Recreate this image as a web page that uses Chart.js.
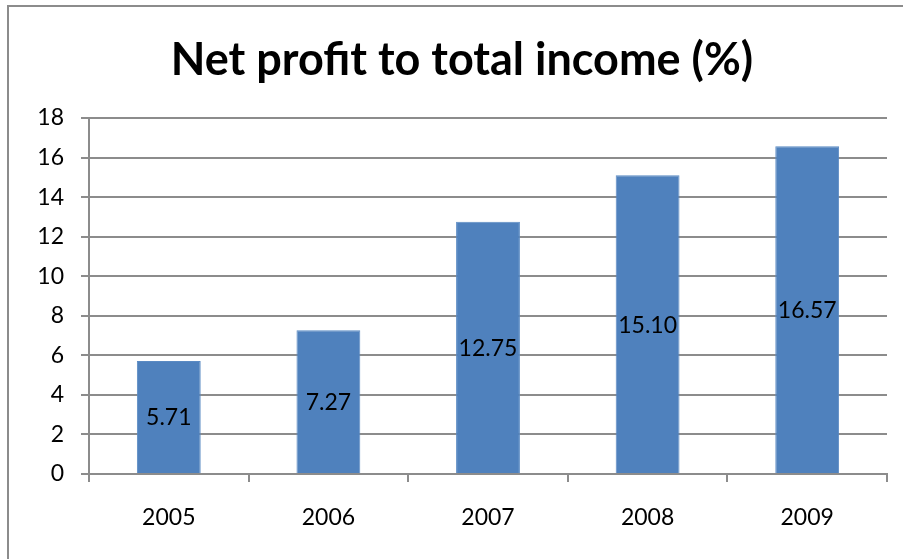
<!DOCTYPE html>
<html>
<head>
<meta charset="utf-8">
<script src="https://cdn.jsdelivr.net/npm/chart.js@4"></script>
<style>
  html, body { margin: 0; padding: 0; background: #fff; }
  #wrap { width: 903px; height: 559px; }
</style>
</head>
<body>
<div id="wrap"><canvas id="myChart"></canvas></div>
<script>
// data
const years = ['2005', '2006', '2007', '2008', '2009'];
const profitRatio = [5.71, 7.27, 12.75, 15.10, 16.57];
const yTicks = [0, 2, 4, 6, 8, 10, 12, 14, 16, 18];
const chartTitle = 'Net profit to total income (%)';

const FONT = 'Lato, "Liberation Sans", sans-serif';

// outer frame + title, like the spreadsheet chart
const frame = {
  id: 'frame',
  beforeDraw(chart) {
    const { ctx } = chart;
    ctx.save();
    ctx.fillStyle = '#fff';
    ctx.fillRect(0, 0, chart.width, chart.height);
    ctx.strokeStyle = '#8c8c8c';
    ctx.lineWidth = 2;
    ctx.beginPath();
    ctx.moveTo(8, chart.height + 2);
    ctx.lineTo(8, 6);
    ctx.lineTo(chart.width + 2, 6);
    ctx.stroke();

    ctx.font = 'bold 45px ' + FONT;
    ctx.fillStyle = '#000';
    ctx.textAlign = 'center';
    ctx.textBaseline = 'middle';
    ctx.fillText(chartTitle, 462, 60);
    ctx.restore();
  }
};

// value labels centred in each bar
const barLabels = {
  id: 'barLabels',
  afterDatasetsDraw(chart) {
    const { ctx } = chart;
    const meta = chart.getDatasetMeta(0);
    ctx.save();
    ctx.font = '23px ' + FONT;
    ctx.fillStyle = '#000';
    ctx.textAlign = 'center';
    ctx.textBaseline = 'middle';
    meta.data.forEach((bar, i) => {
      const y = (bar.y + bar.base) / 2 + 1;
      ctx.fillText(profitRatio[i].toFixed(2), bar.x, y);
    });
    ctx.restore();
  }
};

const config = {
  type: 'bar',
  data: {
    labels: years,
    datasets: [{
      data: profitRatio,
      backgroundColor: '#4f81bd',
      borderColor: '#5a8ac3',
      borderWidth: 1,
      barPercentage: 0.4,
      categoryPercentage: 1
    }]
  },
  options: {
    responsive: true,
    maintainAspectRatio: false,
    animation: false,
    layout: { padding: { left: 0, right: 16, top: 118, bottom: 0 } },
    plugins: {
      legend: { display: false },
      tooltip: { enabled: false },
      title: { display: false }
    },
    scales: {
      x: {
        offset: true,
        grid: {
          offset: true,
          drawOnChartArea: false,
          drawTicks: true,
          tickLength: 8,
          color: '#8c8c8c',
          lineWidth: 2
        },
        border: { color: '#8c8c8c', width: 2 },
        ticks: { color: '#000', font: { family: FONT, size: 23 }, padding: 22 },
        afterFit(scale) { scale.height = 85; }
      },
      y: {
        min: 0,
        max: 18,
        afterBuildTicks(scale) { scale.ticks = yTicks.map(v => ({ value: v })); },
        grid: {
          color: '#8c8c8c',
          lineWidth: 2,
          drawTicks: true,
          tickLength: 8
        },
        border: { color: '#8c8c8c', width: 2 },
        ticks: { color: '#000', font: { family: FONT, size: 23 }, padding: 17 },
        afterFit(scale) { scale.width = 89; }
      }
    }
  },
  plugins: [frame, barLabels]
};

const myChart = new Chart(document.getElementById('myChart'), config);
</script>
</body>
</html>
